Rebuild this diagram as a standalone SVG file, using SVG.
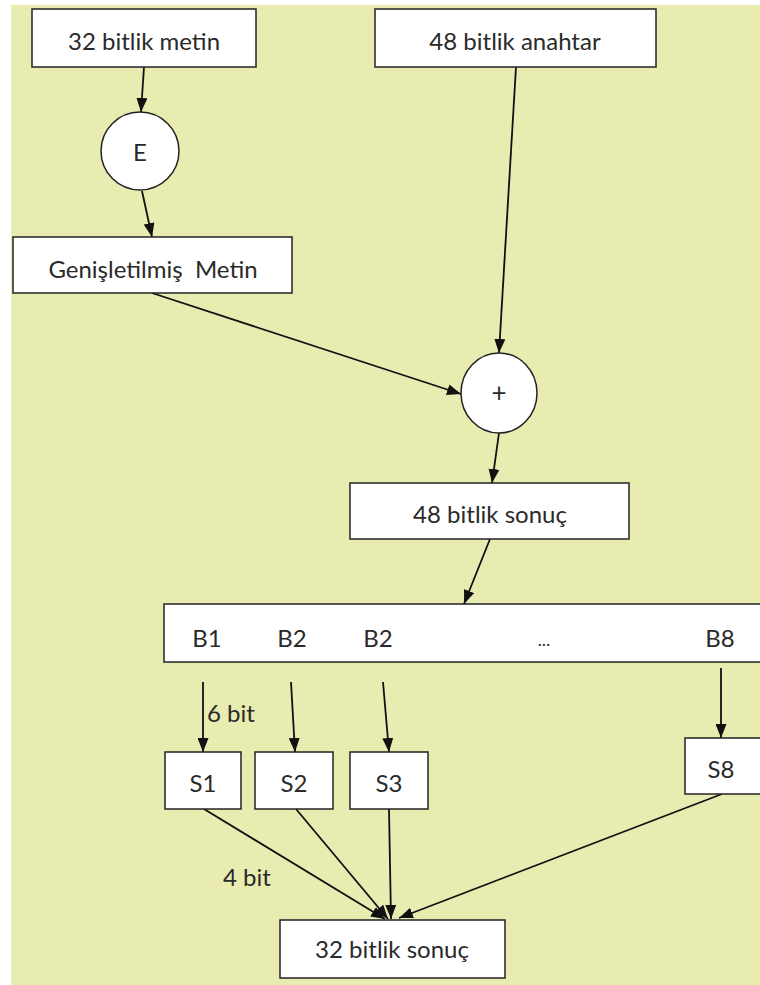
<svg xmlns="http://www.w3.org/2000/svg" width="760" height="985" viewBox="0 0 760 985">
<defs>
<marker id="ah" markerWidth="14" markerHeight="11" refX="14" refY="5.5" orient="auto" markerUnits="userSpaceOnUse">
<path d="M0,0 L14,5.5 L0,11 Z" fill="#111"/>
</marker>
<style>
.box{fill:#fff;stroke:#222;stroke-width:1.5}
.t{font-family:Lato,"Open Sans","Liberation Sans",sans-serif;font-size:24px;fill:#2a2a2a;text-anchor:middle;dominant-baseline:central}
.lbl{font-family:Lato,"Open Sans","Liberation Sans",sans-serif;font-size:24px;fill:#2a2a2a;dominant-baseline:central}
.c{stroke:#111;stroke-width:1.8;fill:none;marker-end:url(#ah)}
</style>
</defs>
<rect x="0" y="0" width="760" height="985" fill="#fff"/>
<rect x="11" y="5" width="749" height="980" fill="#E8ECB0"/>

<g id="connectors">
<line class="c" x1="144" y1="67" x2="141" y2="112"/>
<line class="c" x1="142" y1="191" x2="152" y2="237"/>
<line class="c" x1="516" y1="67" x2="499" y2="353"/>
<line class="c" x1="152" y1="293" x2="461" y2="394"/>
<line class="c" x1="499" y1="433" x2="492" y2="483"/>
<line class="c" x1="490" y1="539" x2="464" y2="604"/>
<line class="c" x1="203" y1="682" x2="203" y2="752"/>
<line class="c" x1="291" y1="682" x2="295" y2="752"/>
<line class="c" x1="383" y1="682" x2="389" y2="752"/>
<line class="c" x1="721" y1="668" x2="721" y2="738"/>
<line class="c" x1="204" y1="809" x2="385" y2="919"/>
<line class="c" x1="296" y1="809" x2="388" y2="919"/>
<line class="c" x1="389" y1="809" x2="391" y2="919"/>
<line class="c" x1="722" y1="794" x2="399" y2="918"/>
</g>

<g id="n32metin"><rect class="box" x="32" y="9" width="224" height="58"/><text class="t" x="144" y="40">32 bitlik metin</text></g>
<g id="nanahtar"><rect class="box" x="375" y="9" width="281" height="58"/><text class="t" x="515" y="40">48 bitlik anahtar</text></g>
<g id="nE"><circle class="box" cx="140" cy="151" r="39"/><text class="t" x="140" y="151">E</text></g>
<g id="ngenis"><rect class="box" x="13" y="237" width="279" height="56"/><text class="t" x="153" y="268" xml:space="preserve">Genişletilmiş  Metin</text></g>
<g id="nplus"><ellipse class="box" cx="499" cy="393" rx="38" ry="40"/><text class="t" x="499" y="392" style="font-size:26px">+</text></g>
<g id="n48sonuc"><rect class="box" x="350" y="483" width="279" height="56"/><text class="t" x="490" y="513">48 bitlik sonuç</text></g>
<g id="nB"><rect class="box" x="164" y="604" width="600" height="58"/>
<text class="t" x="207" y="637">B1</text><text class="t" x="292" y="637">B2</text><text class="t" x="378" y="637">B2</text><text class="t" x="544" y="639" style="font-size:18px">...</text><text class="t" x="720" y="637">B8</text></g>
<g id="nS1"><rect class="box" x="165" y="752" width="76" height="57"/><text class="t" x="203" y="782">S1</text></g>
<g id="nS2"><rect class="box" x="255" y="752" width="78" height="57"/><text class="t" x="294" y="782">S2</text></g>
<g id="nS3"><rect class="box" x="350" y="752" width="78" height="57"/><text class="t" x="389" y="782">S3</text></g>
<g id="nS8"><rect class="box" x="685" y="738" width="80" height="56"/><text class="t" x="721" y="768">S8</text></g>
<g id="n32sonuc"><rect class="box" x="280" y="920" width="225" height="58"/><text class="t" x="392" y="948">32 bitlik sonuç</text></g>
<text class="lbl" x="207" y="712">6 bit</text>
<text class="lbl" x="223" y="876">4 bit</text>
</svg>
